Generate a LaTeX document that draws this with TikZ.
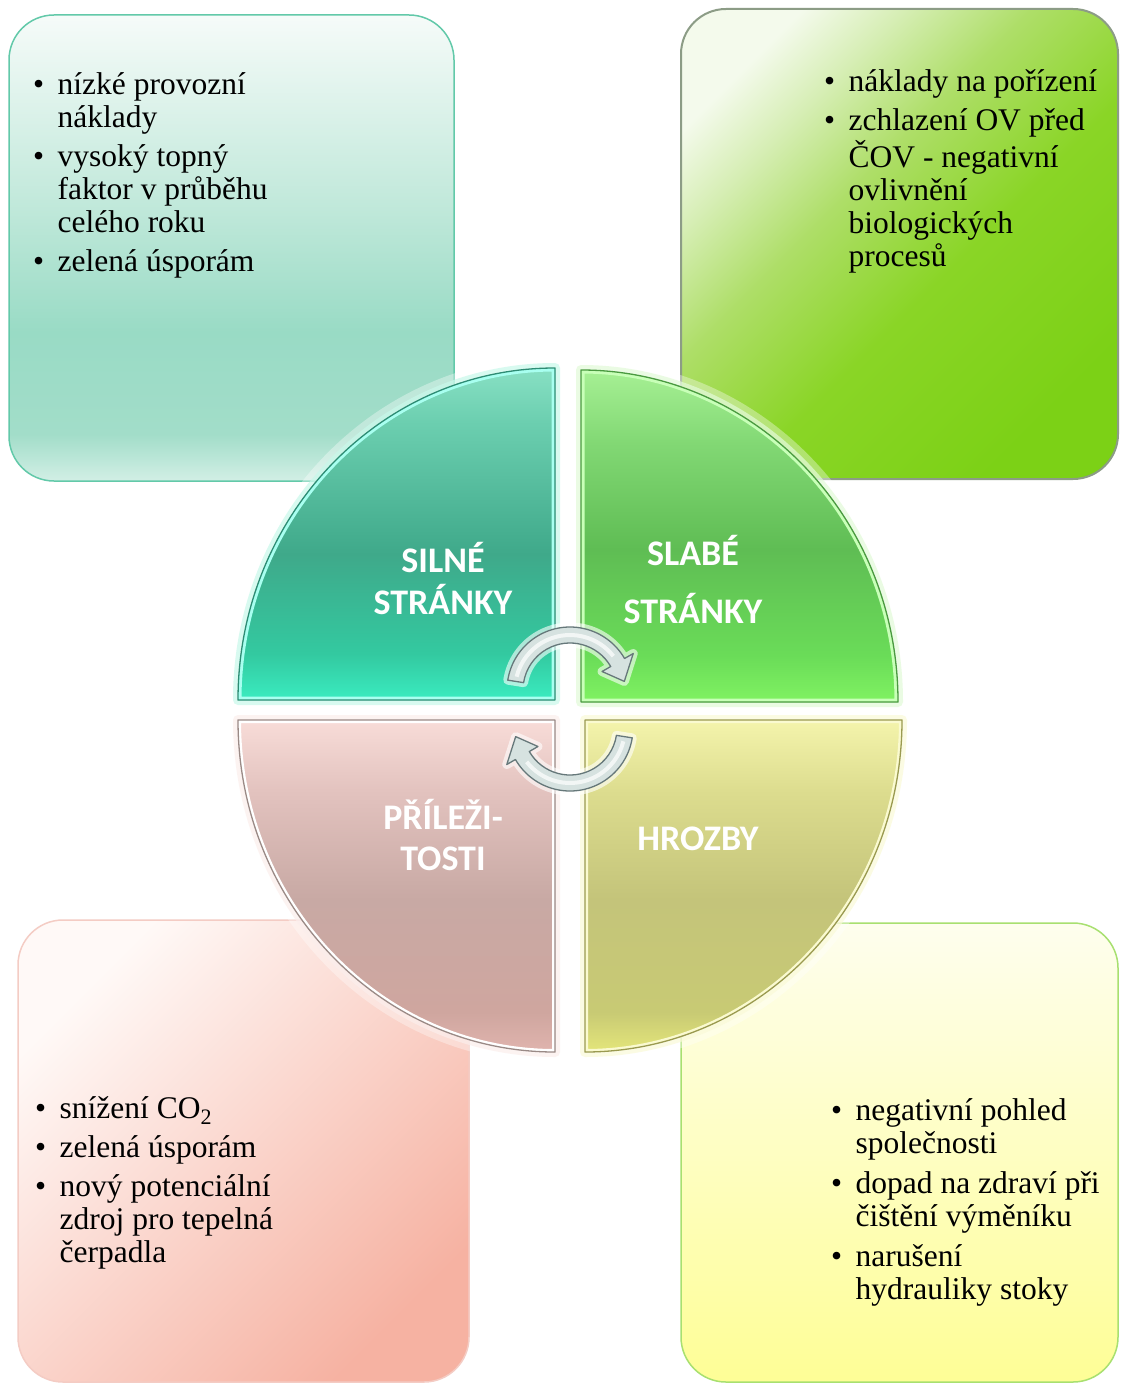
\documentclass[tikz,border=0pt]{standalone}
\usepackage{fontspec}
\setmainfont{Liberation Serif}
\newfontfamily\quadfont{Carlito}
% box colours
\definecolor{tlbA}{HTML}{F6FBF9}
\definecolor{tlbB}{HTML}{C2E9DB}
\definecolor{tlbC}{HTML}{99DBC5}
\definecolor{tlbD}{HTML}{A2DDC9}
\definecolor{tlbE}{HTML}{D2EFE5}
\definecolor{trbA}{HTML}{F4FAEC}
\definecolor{trbAB}{HTML}{D6EEB4}
\definecolor{trbB}{HTML}{AEDE68}
\definecolor{trbC}{HTML}{8AD526}
\definecolor{trbD}{HTML}{7CD116}
% quadrant colours
\definecolor{qtlA}{HTML}{88E0C4}
\definecolor{qtlB}{HTML}{6CCFB0}
\definecolor{qtlC}{HTML}{3FA98A}
\definecolor{qtlD}{HTML}{33C9A0}
\definecolor{qtlE}{HTML}{3AECC0}
\definecolor{qtrA}{HTML}{A6F094}
\definecolor{qtrB}{HTML}{82D874}
\definecolor{qtrC}{HTML}{5FBD54}
\definecolor{qtrD}{HTML}{6ADC58}
\definecolor{qtrE}{HTML}{80F262}
\definecolor{qblA}{HTML}{F8DCD8}
\definecolor{qblB}{HTML}{E2C2BE}
\definecolor{qblC}{HTML}{C8A9A4}
\definecolor{qblD}{HTML}{CFA69F}
\definecolor{qblE}{HTML}{E0B4AE}
\definecolor{qbrA}{HTML}{F4F4AC}
\definecolor{qbrB}{HTML}{DCDC8E}
\definecolor{qbrC}{HTML}{C4C47A}
\definecolor{qbrD}{HTML}{C8CA74}
\definecolor{qbrE}{HTML}{E4E67A}
% other colours
\definecolor{HTML62C9A9}{HTML}{62C9A9}
\definecolor{HTML8C9C86}{HTML}{8C9C86}
\definecolor{HTMLFFF9F7}{HTML}{FFF9F7}
\definecolor{HTMLFAD6CE}{HTML}{FAD6CE}
\definecolor{HTMLF6B2A2}{HTML}{F6B2A2}
\definecolor{HTMLF4CCC4}{HTML}{F4CCC4}
\definecolor{HTMLFEFEEE}{HTML}{FEFEEE}
\definecolor{HTMLFEFEC4}{HTML}{FEFEC4}
\definecolor{HTMLFEFE96}{HTML}{FEFE96}
\definecolor{HTMLA8E070}{HTML}{A8E070}
\definecolor{HTMLC8F8EA}{HTML}{C8F8EA}
\definecolor{HTMLA8FFF0}{HTML}{A8FFF0}
\definecolor{HTML2E8C74}{HTML}{2E8C74}
\definecolor{HTMLE2FAD8}{HTML}{E2FAD8}
\definecolor{HTMLC8FFB8}{HTML}{C8FFB8}
\definecolor{HTML4A9A40}{HTML}{4A9A40}
\definecolor{HTMLFBEEEC}{HTML}{FBEEEC}
\definecolor{HTML9A8A86}{HTML}{9A8A86}
\definecolor{HTMLFAFAD8}{HTML}{FAFAD8}
\definecolor{HTMLFAFAD0}{HTML}{FAFAD0}
\definecolor{HTML9A9A50}{HTML}{9A9A50}
\definecolor{arrfill}{HTML}{D6E2E0}
\definecolor{arrline}{HTML}{66787A}
\pgfdeclareverticalshading{shTLbox}{100bp}{color(0bp)=(tlbE); color(25bp)=(tlbE); color(30bp)=(tlbD); color(41bp)=(tlbC); color(55bp)=(tlbB); color(75bp)=(tlbA); color(100bp)=(tlbA)}
\pgfdeclareverticalshading{shTRbox}{100bp}{color(0bp)=(trbD); color(25bp)=(trbD); color(44bp)=(trbC); color(58bp)=(trbB); color(68bp)=(trbAB); color(76bp)=(trbA); color(100bp)=(trbA)}
\pgfdeclareverticalshading{shTL}{100bp}{color(0bp)=(qtlE); color(25bp)=(qtlE); color(32bp)=(qtlD); color(47bp)=(qtlC); color(67bp)=(qtlB); color(75bp)=(qtlA); color(100bp)=(qtlA)}
\pgfdeclareverticalshading{shTR}{100bp}{color(0bp)=(qtrE); color(25bp)=(qtrE); color(32bp)=(qtrD); color(48bp)=(qtrC); color(64bp)=(qtrB); color(75bp)=(qtrA); color(100bp)=(qtrA)}
\pgfdeclareverticalshading{shBL}{100bp}{color(0bp)=(qblE); color(25bp)=(qblE); color(31bp)=(qblD); color(48bp)=(qblC); color(64bp)=(qblB); color(75bp)=(qblA); color(100bp)=(qblA)}
\pgfdeclareverticalshading{shBR}{100bp}{color(0bp)=(qbrE); color(25bp)=(qbrE); color(31bp)=(qbrD); color(48bp)=(qbrC); color(64bp)=(qbrB); color(75bp)=(qbrA); color(100bp)=(qbrA)}
\newcommand{\swbul}{\makebox[24.5pt][l]{\textbullet}}
\newcommand{\qpTL}{(555,-700) -- (238,-700) arc[start angle=180,end angle=90,x radius=317,y radius=332] -- cycle}
\newcommand{\qpTR}{(581,-702) -- (581,-370) arc[start angle=90,end angle=0,x radius=317,y radius=332] -- cycle}
\newcommand{\qpBR}{(585,-720) -- (902,-720) arc[start angle=0,end angle=-90,x radius=317,y radius=332] -- cycle}
\newcommand{\qpBL}{(555,-720) -- (555,-1052) arc[start angle=-90,end angle=-180,x radius=317,y radius=332] -- cycle}
\newcommand{\arrUp}{(171:63) arc[start angle=171,end angle=30,radius=63] -- (30:73) -- (9:55) -- (30:37) -- (30:47) arc[start angle=30,end angle=171,radius=47] -- cycle}
\newcommand{\arrLo}{(-9:63) arc[start angle=-9,end angle=-150,radius=63] -- (-150:73) -- (-171:55) -- (-150:37) -- (-150:47) arc[start angle=-150,end angle=-9,radius=47] -- cycle}
\begin{document}
\begin{tikzpicture}[x=1pt,y=1pt,
  txt/.style={inner sep=0pt, anchor=base west, font=\fontsize{31.5}{33}\selectfont, text=black},
  qlabel/.style={inner sep=0pt, anchor=base, font=\quadfont\bfseries\fontsize{36}{40}\selectfont, text=white},
  box/.style={rounded corners=45pt, line width=1.5pt},
  glowA/.style={white, line width=22pt, opacity=0.35, line join=round},
  arrowshape/.style={fill=arrfill, draw=arrline, line width=1.3pt, line join=round},
]
\useasboundingbox (0,0) rectangle (1120,-1383);
\fill[white] (0,0) rectangle (1120,-1383);

% ---------- corner boxes ----------
\shade[box, shading=shTLbox] (9,-15) rectangle (454,-481);
\draw[box, draw=HTML62C9A9] (9,-15) rectangle (454,-481);

\shade[box, shading=shTRbox, shading angle=45] (681,-9) rectangle (1118,-479);
\draw[box, draw=HTML8C9C86, line width=2pt] (681,-9) rectangle (1118,-479);

\shade[box, top color=HTMLFFF9F7, middle color=HTMLFAD6CE, bottom color=HTMLF6B2A2, shading angle=45] (18,-920) rectangle (469,-1382);
\draw[box, draw=HTMLF4CCC4] (18,-920) rectangle (469,-1382);

\shade[box, top color=HTMLFEFEEE, middle color=HTMLFEFEC4, bottom color=HTMLFEFE96] (681,-923) rectangle (1118,-1382);
\draw[box, draw=HTMLA8E070] (681,-923) rectangle (1118,-1382);

% ---------- quadrants ----------
\draw[glowA] \qpTL;
\draw[HTMLC8F8EA, line width=10pt, opacity=0.7, line join=round] \qpTL;
\shade[shading=shTL] \qpTL;
\begin{scope}\clip \qpTL; \draw[HTMLA8FFF0, line width=7pt] \qpTL; \end{scope}
\draw[HTML2E8C74, line width=1.3pt, line join=round] \qpTL;

\draw[glowA] \qpTR;
\draw[HTMLE2FAD8, line width=10pt, opacity=0.7, line join=round] \qpTR;
\shade[shading=shTR] \qpTR;
\begin{scope}\clip \qpTR; \draw[HTMLC8FFB8, line width=7pt] \qpTR; \end{scope}
\draw[HTML4A9A40, line width=1.3pt, line join=round] \qpTR;

\draw[glowA] \qpBL;
\draw[HTMLFBEEEC, line width=10pt, opacity=0.7, line join=round] \qpBL;
\shade[shading=shBL] \qpBL;
\begin{scope}\clip \qpBL; \draw[white, line width=6pt] \qpBL; \end{scope}
\draw[HTML9A8A86, line width=1.3pt, line join=round] \qpBL;

\draw[glowA] \qpBR;
\draw[HTMLFAFAD8, line width=10pt, opacity=0.7, line join=round] \qpBR;
\shade[shading=shBR] \qpBR;
\begin{scope}\clip \qpBR; \draw[HTMLFAFAD0, line width=6pt] \qpBR; \end{scope}
\draw[HTML9A9A50, line width=1.3pt, line join=round] \qpBR;

% ---------- circular arrows ----------
\begin{scope}[shift={(570,-690)}]
  \draw[white, line width=9pt, opacity=0.6, line join=round] \arrUp;
  \path[arrowshape] \arrUp;
  \draw[white, line width=4pt, opacity=0.7] (166:55) arc[start angle=166,end angle=38,radius=55];
\end{scope}
\begin{scope}[shift={(570,-728)}]
  \draw[white, line width=9pt, opacity=0.6, line join=round] \arrLo;
  \path[arrowshape] \arrLo;
  \draw[white, line width=4pt, opacity=0.7] (-14:55) arc[start angle=-14,end angle=-142,radius=55];
\end{scope}

% ---------- quadrant labels ----------
\node[qlabel] (s1) at (443,-572) {SILNÉ};
\node[qlabel] (s2) at (443,-614) {STRÁNKY};
\node[qlabel] (w1) at (693,-565) {SLABÉ};
\node[qlabel] (w2) at (693,-623) {STRÁNKY};
\node[qlabel] (o1) at (443,-829) {PŘÍLEŽI-};
\node[qlabel] (o2) at (443,-870) {TOSTI};
\node[qlabel] (t1) at (698,-850) {HROZBY};

% ---------- texts ----------
\node[txt] (tltext) at (33,-95) {\begin{tabular}[t]{@{}l@{}l@{}}
\swbul & nízké provozní\\ & náklady\\[6pt]
\swbul & vysoký topný\\ & faktor v průběhu\\ & celého roku\\[6pt]
\swbul & zelená úsporám
\end{tabular}};

\node[txt] (trtext) at (824,-92) {\begin{tabular}[t]{@{}l@{}l@{}}
\swbul & náklady na pořízení\\[6pt]
\swbul & zchlazení OV před\\ & ČOV - negativní\\ & ovlivnění\\ & biologických\\ & procesů
\end{tabular}};

\node[txt] (bltext) at (35,-1118) {\begin{tabular}[t]{@{}l@{}l@{}}
\swbul & snížení CO\textsubscript{2}\\[6pt]
\swbul & zelená úsporám\\[6pt]
\swbul & nový potenciální\\ & zdroj pro tepelná\\ & čerpadla
\end{tabular}};

\node[txt] (brtext) at (831,-1120) {\begin{tabular}[t]{@{}l@{}l@{}}
\swbul & negativní pohled\\ & společnosti\\[7pt]
\swbul & dopad na zdraví při\\ & čištění výměníku\\[7pt]
\swbul & narušení\\ & hydrauliky stoky
\end{tabular}};
\end{tikzpicture}
\end{document}
